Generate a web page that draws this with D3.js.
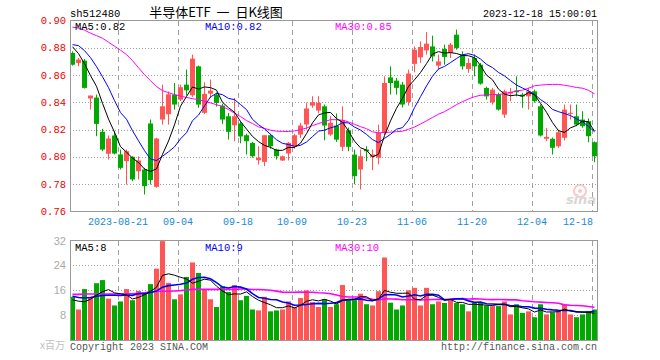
<!DOCTYPE html>
<html><head><meta charset="utf-8">
<script src="https://cdn.jsdelivr.net/npm/d3@7"></script>
<style>
html,body{margin:0;padding:0;background:#fff;}
svg{display:block;}
</style></head>
<body>
<svg id="c" width="660" height="360"></svg>
<script>
// ---- data ----
const opens = [0.8762,0.8689,0.8706,0.8428,0.8435,0.8184,0.8023,0.8157,0.8018,0.7969,
0.8001,0.7895,0.7908,0.8245,0.7781,0.8274,0.8313,0.8457,0.8420,0.8530,
0.8452,0.8664,0.8323,0.8464,0.8457,0.8376,0.8298,0.8232,0.8245,0.8159,
0.8103,0.7976,0.7964,0.8159,0.8054,0.7974,0.8025,0.8078,0.8164,0.8238,
0.8376,0.8340,0.8371,0.8164,0.8230,0.8074,0.8195,0.8017,0.7908,0.8054,
0.8001,0.7994,0.8176,0.8583,0.8559,0.8530,0.8403,0.8682,0.8730,0.8781,
0.8810,0.8669,0.8791,0.8762,0.8896,0.8750,0.8645,0.8725,0.8676,0.8506,
0.8400,0.8457,0.8310,0.8464,0.8486,0.8457,0.8444,0.8481,0.8371,0.8133,
0.8133,0.8078,0.8140,0.8318,0.8298,0.8274,0.8262,0.8108];
const highs = [0.8774,0.8726,0.8718,0.8450,0.8457,0.8206,0.8157,0.8188,0.8054,0.8054,
0.8005,0.8005,0.7920,0.8274,0.8140,0.8530,0.8480,0.8542,0.8530,0.8640,
0.8750,0.8670,0.8547,0.8567,0.8472,0.8390,0.8323,0.8432,0.8261,0.8170,
0.8110,0.8078,0.8160,0.8170,0.8060,0.8010,0.8110,0.8170,0.8250,0.8398,
0.8445,0.8445,0.8384,0.8299,0.8318,0.8371,0.8215,0.8054,0.8054,0.8078,
0.8054,0.8237,0.8591,0.8664,0.8579,0.8550,0.8640,0.8810,0.8847,0.8916,
0.8889,0.8750,0.8823,0.8835,0.8933,0.8774,0.8725,0.8750,0.8689,0.8515,
0.8506,0.8470,0.8493,0.8506,0.8591,0.8470,0.8508,0.8493,0.8384,0.8213,
0.8142,0.8200,0.8384,0.8384,0.8384,0.8335,0.8282,0.8113];
const lows = [0.8669,0.8664,0.8501,0.8347,0.8152,0.8042,0.7981,0.8018,0.7908,0.7798,
0.7822,0.7835,0.7725,0.7798,0.7774,0.8237,0.8237,0.8347,0.8410,0.8450,
0.8440,0.8360,0.8315,0.8433,0.8369,0.8240,0.8127,0.8115,0.8100,0.8018,
0.7994,0.7944,0.7932,0.8060,0.7981,0.7970,0.7974,0.8060,0.8140,0.8200,
0.8360,0.8320,0.8122,0.8155,0.8110,0.8042,0.8042,0.7800,0.7761,0.7969,
0.7903,0.7945,0.8160,0.8457,0.8457,0.8362,0.8376,0.8620,0.8689,0.8750,
0.8700,0.8640,0.8676,0.8725,0.8786,0.8640,0.8616,0.8591,0.8530,0.8420,
0.8384,0.8340,0.8286,0.8408,0.8444,0.8360,0.8347,0.8398,0.8150,0.8115,
0.8018,0.8067,0.8120,0.8274,0.8225,0.8213,0.8108,0.7961];
const closes = [0.8676,0.8713,0.8506,0.8450,0.8242,0.8054,0.8135,0.8025,0.7920,0.8042,
0.7835,0.7974,0.7786,0.7830,0.8135,0.8371,0.8459,0.8384,0.8511,0.8488,
0.8720,0.8384,0.8462,0.8486,0.8396,0.8274,0.8184,0.8298,0.8150,0.8115,
0.8005,0.7994,0.8159,0.8078,0.8005,0.8005,0.8103,0.8159,0.8230,0.8355,
0.8401,0.8396,0.8230,0.8250,0.8127,0.8269,0.8074,0.7859,0.8005,0.8042,
0.8018,0.8176,0.8542,0.8542,0.8506,0.8384,0.8611,0.8786,0.8806,0.8830,
0.8737,0.8700,0.8733,0.8823,0.8799,0.8664,0.8689,0.8664,0.8537,0.8444,
0.8493,0.8347,0.8481,0.8477,0.8474,0.8444,0.8481,0.8408,0.8157,0.8147,
0.8067,0.8181,0.8347,0.8323,0.8237,0.8225,0.8152,0.8005];
const volumes = [13.8,9.7,16.3,13.8,18.2,19.2,13.2,11.0,12.3,16.3,
12.7,15.7,15.3,17.9,22.9,31.8,18.3,13.0,14.6,20.2,
24.9,21.5,16.3,13.0,10.5,17.2,15.4,17.6,12.7,14.1,
9.7,9.4,13.8,9.1,9.4,9.7,12.3,10.5,13.4,15.9,
12.1,10.5,13.0,10.5,11.4,17.6,12.7,12.7,14.8,11.4,
11.0,15.6,26.5,11.9,9.7,11.0,15.9,16.7,11.0,16.7,
11.4,12.3,11.8,12.7,11.8,11.4,9.1,11.9,12.1,11.0,
10.8,10.8,12.3,8.1,11.4,8.6,9.1,7.2,11.4,8.1,
8.8,9.4,11.4,8.1,7.2,8.1,9.1,9.7];
// moving-average values before a full window exists
const ma5Head  = [0.8808,0.8757,0.8684,0.8596];
const ma10Head = [0.8823,0.8816,0.8779,0.8728,0.8662,0.8588,0.8508,0.8413,0.8325];
const ma30Head = [0.8951,0.8944,0.8929,0.8907,0.8889,0.8870,0.8841,0.8812,0.8782,0.8750,
0.8706,0.8654,0.8603,0.8559,0.8515,0.8486,0.8471,0.8457,0.8446,0.8436,
0.8427,0.8420,0.8408,0.8396,0.8383,0.8369,0.8347,0.8321,0.8296];
const volMa5Head  = [12.8,12.4,12.2,13.0];
const volMa10Head = [14.0,13.6,13.4,13.6,14.0,14.2,14.3,14.3,14.2];
const volMa30Head = [14.6,14.6,14.7,14.7,14.7,14.7,14.7,14.7,14.7,14.8,
14.8,14.9,15.1,15.4,15.5,15.6,15.6,15.7,15.8,16.0,
16.2,16.2,16.2,16.2,16.2,16.2,16.2,16.2,16.3];
const tickIdx    = [8,18,28,37,47,57,67,77,87];
const tickLabels = ["2023-08-21","09-04","09-18","10-09","10-23","11-06","11-20","12-04","12-18"];
const priceTicks = [0.90,0.88,0.86,0.84,0.82,0.80,0.78,0.76];
const volTicks   = [32,24,16,8];
const symbol = "sh512480";
const title = "半导体ETF  一  日K线图";
const stamp = "2023-12-18 15:00:01";

// ---- derived moving averages ----
function ma(arr, n, head){
  return arr.map((v,i)=> i < n-1 ? head[i] : d3.mean(arr.slice(i-n+1,i+1)));
}
const ma5 = ma(closes,5,ma5Head), ma10 = ma(closes,10,ma10Head), ma30 = ma(closes,30,ma30Head);
const vma5 = ma(volumes,5,volMa5Head), vma10 = ma(volumes,10,volMa10Head), vma30 = ma(volumes,30,volMa30Head);

// ---- drawing ----
const svg = d3.select("#c");
const N = closes.length;
const UP="#ff5555", DOWN="#00a800", GRID="#a0a0a0", FRAME="#999";
const MONO = "'Liberation Mono','DejaVu Sans Mono',monospace";
const L=70, R=598;
const x = d3.scaleBand().domain(d3.range(N)).range([L, L+6*N]);
const bw = x.bandwidth()-1;
const cx = i => x(i) + 2.5;
const y = d3.scaleLinear().domain([0.76,0.90]).range([211.5,20.5]);
const yv = d3.scaleLinear().domain([0,32]).range([339.5,240.5]);

// header texts
svg.append("text").attr("x",70).attr("y",17).attr("font-family",MONO).attr("font-size",10.5)
  .attr("fill","#000").text(symbol);
svg.append("text").attr("x",216).attr("y",17).attr("text-anchor","middle").style("white-space","pre")
  .attr("font-family","'Noto Sans CJK SC',sans-serif").attr("font-size",13).attr("fill","#000").text(title);
svg.append("text").attr("x",597).attr("y",17).attr("text-anchor","end").attr("font-family",MONO)
  .attr("font-size",10).attr("fill","#000").text(stamp);

// ---- price panel ----
const gP = svg.append("g");
priceTicks.filter(t=>t<0.895 && t>0.765).forEach(t=>{
  const yy = Math.round(y(t))+0.5;
  gP.append("line").attr("x1",L).attr("x2",R).attr("y1",yy).attr("y2",yy)
    .attr("stroke",GRID).attr("stroke-dasharray","1,2");
});
tickIdx.forEach(i=>{
  const xx = x(i)+0.5;
  gP.append("line").attr("x1",xx).attr("x2",xx).attr("y1",21).attr("y2",211)
    .attr("stroke",GRID).attr("stroke-dasharray","5,4");
  gP.append("line").attr("x1",xx).attr("x2",xx).attr("y1",241).attr("y2",340)
    .attr("stroke",GRID).attr("stroke-dasharray","5,4");
});
priceTicks.forEach(t=>{
  svg.append("text").attr("x",66).attr("y",y(t)+3.5).attr("text-anchor","end")
    .attr("font-family",MONO).attr("font-size",10.5).attr("fill","#ee0000").text(t.toFixed(2));
});
tickIdx.forEach((i,k)=>{
  const w = tickLabels[k].length*6;
  const xc = Math.min(x(i), 593 - w/2);
  svg.append("text").attr("x",xc).attr("y",225).attr("text-anchor","middle")
    .attr("font-family",MONO).attr("font-size",10).attr("fill","#1a8ad6").text(tickLabels[k]);
});

// sina watermark
const wm = svg.append("g").attr("opacity",0.55);
wm.append("circle").attr("cx",580).attr("cy",191).attr("r",6).attr("fill","none").attr("stroke","#f2a0a0").attr("stroke-width",2);
wm.append("circle").attr("cx",580).attr("cy",191).attr("r",2).attr("fill","#f2a0a0");
wm.append("text").attr("x",581).attr("y",204).attr("text-anchor","middle").attr("font-family","'DejaVu Sans',sans-serif")
  .attr("font-size",13).attr("font-weight","bold").attr("font-style","italic").attr("fill","#b8b8b8").text("sina");

// candles
const cg = gP.selectAll("g.c").data(d3.range(N)).join("g");
cg.append("line").attr("x1",i=>cx(i)).attr("x2",i=>cx(i))
  .attr("y1",i=>y(highs[i])).attr("y2",i=>y(lows[i]))
  .attr("stroke",i=>closes[i]>=opens[i]?UP:DOWN);
cg.append("rect").attr("x",i=>x(i)).attr("width",bw)
  .attr("y",i=>y(Math.max(opens[i],closes[i])))
  .attr("height",i=>Math.max(1, Math.abs(y(opens[i])-y(closes[i]))))
  .attr("fill",i=>closes[i]>=opens[i]?UP:DOWN);

const lineP = d3.line().x((d,i)=>cx(i)).y(d=>y(d));
[[ma30,"#ff00ff"],[ma10,"#0000ff"],[ma5,"#000"]].forEach(([a,c])=>{
  gP.append("path").attr("d",lineP(a)).attr("fill","none").attr("stroke",c).attr("stroke-width",1);
});
gP.append("rect").attr("x",70.5).attr("y",20.5).attr("width",527).attr("height",191)
  .attr("fill","none").attr("stroke",FRAME);
const fmt2 = d3.format(".2f");
[["MA5:"+fmt2(ma5[N-1]),75,"#000"],["MA10:"+fmt2(ma10[N-1]),205,"#0000ff"],["MA30:"+fmt2(ma30[N-1]),335,"#ff00ff"]]
  .forEach(([t,xx,c])=>svg.append("text").attr("x",xx).attr("y",30).attr("font-family",MONO)
    .attr("font-size",10.5).attr("fill",c).text(t));

// ---- volume panel ----
const gV = svg.append("g");
volTicks.filter(t=>t<32).forEach(t=>{
  const yy = Math.round(yv(t))+0.5;
  gV.append("line").attr("x1",L).attr("x2",R).attr("y1",yy).attr("y2",yy)
    .attr("stroke",GRID).attr("stroke-dasharray","1,2");
});
volTicks.forEach(t=>{
  svg.append("text").attr("x",66).attr("y",yv(t)+4).attr("text-anchor","end")
    .attr("font-family","'Liberation Sans',sans-serif").attr("font-size",11).attr("fill","#aaa").text(t);
});
gV.selectAll("rect.v").data(d3.range(N)).join("rect")
  .attr("x",i=>x(i)).attr("width",bw).attr("y",i=>yv(volumes[i]))
  .attr("height",i=>yv(0)-yv(volumes[i])+0.5)
  .attr("fill",i=>closes[i]>=opens[i]?UP:DOWN);
const lineV = d3.line().x((d,i)=>cx(i)).y(d=>yv(d));
[[vma30,"#ff00ff",1.6],[vma10,"#0000ff",1.6],[vma5,"#000",1]].forEach(([a,c,w])=>{
  gV.append("path").attr("d",lineV(a)).attr("fill","none").attr("stroke",c).attr("stroke-width",w);
});
gV.append("rect").attr("x",70.5).attr("y",240.5).attr("width",527).attr("height",100)
  .attr("fill","none").attr("stroke",FRAME);
const fmt0 = d3.format(".0f");
[["MA5:"+fmt0(vma5[N-1]),75,"#000"],["MA10:"+fmt0(vma10[N-1]),205,"#0000ff"],["MA30:"+fmt0(vma30[N-1]),335,"#ff00ff"]]
  .forEach(([t,xx,c])=>svg.append("text").attr("x",xx).attr("y",250.5).attr("font-family",MONO)
    .attr("font-size",10.5).attr("fill",c).text(t));

// footer
svg.append("text").attr("x",65).attr("y",349).attr("text-anchor","end")
  .attr("font-family","'Noto Sans CJK SC',sans-serif").attr("font-size",10).attr("fill","#c0c0c0").text("x百万");
svg.append("text").attr("x",70).attr("y",350).attr("font-family",MONO).attr("font-size",10)
  .attr("fill","#555").text("Copyright 2023 SINA.COM");
svg.append("text").attr("x",597).attr("y",350).attr("text-anchor","end").attr("font-family",MONO).attr("font-size",10)
  .attr("fill","#555").text("http://finance.sina.com.cn");
</script>
</body></html>
